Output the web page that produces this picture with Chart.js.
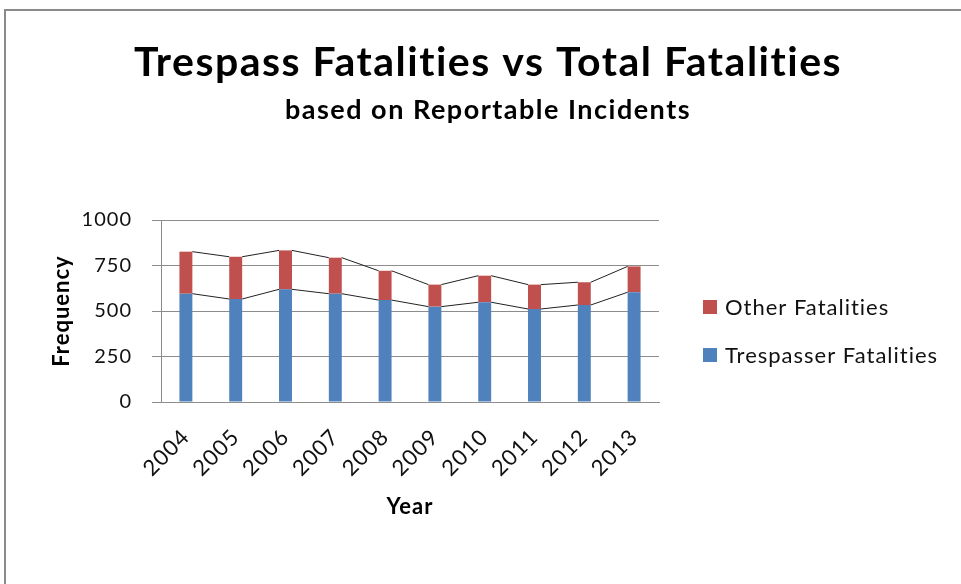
<!DOCTYPE html>
<html>
<head>
<meta charset="utf-8">
<script src="https://cdn.jsdelivr.net/npm/chart.js@4.4.1/dist/chart.umd.min.js"></script>
<style>
  html, body { margin: 0; padding: 0; background: #fff; overflow: hidden; }
  #wrap { position: relative; width: 961px; height: 584px; }
  #frame { position: absolute; left: 4px; top: 9px; width: 1200px; height: 800px; border: 2px solid #8a8a8a; box-sizing: border-box; }
  canvas { position: absolute; left: 0; top: 0; }
</style>
</head>
<body>
<div id="wrap">
  <div id="frame"></div>
  <canvas id="c" width="961" height="584"></canvas>
</div>
<script>
const years = ['2004', '2005', '2006', '2007', '2008', '2009', '2010', '2011', '2012', '2013'];
const trespasserFatalities = [595, 566, 619, 595, 560, 524, 548, 511, 533, 603];
const otherFatalities = [231, 232, 214, 198, 161, 121, 146, 134, 125, 142];
const yTicks = [0, 250, 500, 750, 1000];

const titleText = 'Trespass Fatalities vs Total Fatalities';
const subtitleText = 'based on Reportable Incidents';
const FONT = 'Lato, "Open Sans", sans-serif';

const BLUE = '#4F81BD';
const RED = '#C0504D';
const GRID = '#8c8c8c';

function textStyle(ctx, spacing) {
  if ('letterSpacing' in ctx) ctx.letterSpacing = spacing;
  if ('textRendering' in ctx) ctx.textRendering = 'optimizeSpeed';
}

const textSetup = {
  id: 'textSetup',
  beforeLayout(chart) { textStyle(chart.ctx, '1px'); },
  beforeDraw(chart) { textStyle(chart.ctx, '1px'); }
};

const seriesLines = {
  id: 'seriesLines',
  afterDatasetsDraw(chart) {
    const ctx = chart.ctx;
    ctx.save();
    ctx.strokeStyle = '#222';
    ctx.lineWidth = 1;
    chart.data.datasets.forEach((ds, di) => {
      const meta = chart.getDatasetMeta(di);
      const els = meta.data;
      ctx.beginPath();
      for (let i = 0; i < els.length - 1; i++) {
        const a = els[i], b = els[i + 1];
        ctx.moveTo(a.x + a.width / 2, a.y);
        ctx.lineTo(b.x - b.width / 2, b.y);
      }
      ctx.stroke();
    });
    ctx.restore();
  }
};

const titlesAndLegend = {
  id: 'titlesAndLegend',
  afterDraw(chart) {
    const ctx = chart.ctx;
    ctx.save();
    ctx.fillStyle = '#000';
    ctx.textAlign = 'center';
    ctx.textBaseline = 'alphabetic';
    textStyle(ctx, '1.5px');
    ctx.font = 'bold 41px ' + FONT;
    ctx.fillText(titleText, 488, 76);
    textStyle(ctx, '1.5px');
    ctx.font = 'bold 27px ' + FONT;
    ctx.fillText(subtitleText, 488, 119);

    // legend (reverse order: Other on top)
    const items = chart.data.datasets.map((d) => ({ label: d.label, color: d.backgroundColor })).reverse();
    ctx.textAlign = 'left';
    ctx.textBaseline = 'middle';
    textStyle(ctx, '1px');
    ctx.font = '22px ' + FONT;
    items.forEach((it, i) => {
      const cy = 307 + i * 48;
      ctx.fillStyle = it.color;
      ctx.fillRect(703, cy - 7, 14, 14);
      ctx.fillStyle = '#111';
      ctx.fillText(it.label, 725, cy + 1);
    });
    ctx.restore();
  }
};

new Chart(document.getElementById('c'), {
  type: 'bar',
  data: {
    labels: years,
    datasets: [
      { label: 'Trespasser Fatalities', data: trespasserFatalities, backgroundColor: BLUE, borderWidth: 0 },
      { label: 'Other Fatalities', data: otherFatalities, backgroundColor: RED, borderWidth: 0 }
    ]
  },
  options: {
    responsive: false,
    animation: false,
    layout: { padding: { left: 40, right: 302, top: 220, bottom: 60 } },
    datasets: { bar: { categoryPercentage: 1, barPercentage: 0.26 } },
    plugins: {
      legend: { display: false },
      title: { display: false },
      tooltip: { enabled: false }
    },
    scales: {
      x: {
        stacked: true,
        grid: { display: false, drawTicks: false },
        border: { display: true, color: GRID, width: 1 },
        ticks: { color: '#111', font: { family: FONT, size: 22 }, minRotation: 45, maxRotation: 45, padding: 22 },
        title: { display: true, text: 'Year', color: '#000', font: { family: FONT, size: 22, weight: 'bold' }, padding: { top: 0, bottom: 4 } },
        afterFit(scale) { scale.height = 122; }
      },
      y: {
        stacked: true,
        min: 0,
        max: 1000,
        afterBuildTicks(scale) { scale.ticks = yTicks.map(v => ({ value: v })); },
        grid: { color: GRID, lineWidth: 1, tickLength: 9, drawTicks: true },
        border: { display: true, color: GRID, width: 1 },
        ticks: { color: '#111', font: { family: FONT, size: 20 }, padding: 20, callback: (v) => String(v) },
        title: { display: true, text: 'Frequency', color: '#000', font: { family: FONT, size: 22, weight: 'bold' }, padding: { top: 9, bottom: 0 } },
        afterFit(scale) { scale.width = 121; }
      }
    }
  },
  plugins: [textSetup, seriesLines, titlesAndLegend]
});
</script>
</body>
</html>
